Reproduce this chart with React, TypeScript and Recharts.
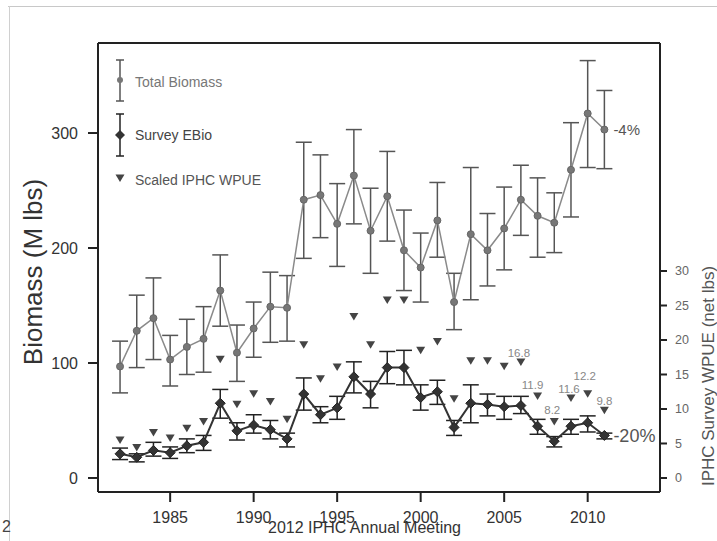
import React from "react";
import {
  ComposedChart,
  Line,
  XAxis,
  YAxis,
  ErrorBar,
  LabelList,
  Legend,
  ReferenceLine,
} from "recharts";

// values
const years = [
  1982, 1983, 1984, 1985, 1986, 1987, 1988, 1989, 1990, 1991, 1992, 1993, 1994, 1995, 1996,
  1997, 1998, 1999, 2000, 2001, 2002, 2003, 2004, 2005, 2006, 2007, 2008, 2009, 2010, 2011,
];
const totalBiomass = [
  97, 128, 139, 103, 114, 121, 163, 109, 130, 149, 148, 242, 246, 221, 263,
  215, 245, 198, 183, 224, 153, 212, 198, 217, 242, 228, 222, 268, 317, 303,
];
const totalLo = [
  74, 96, 103, 80, 90, 92, 132, 84, 105, 118, 119, 191, 209, 184, 221,
  178, 206, 163, 153, 192, 129, 155, 167, 181, 211, 192, 196, 227, 270, 269,
];
const totalHi = [
  119, 159, 174, 124, 138, 149, 194, 133, 153, 179, 176, 292, 281, 256, 303,
  252, 284, 233, 213, 257, 178, 270, 230, 253, 272, 261, 248, 309, 363, 337,
];
const surveyEBio = [
  21, 18, 24, 22, 28, 31, 65, 41, 46, 42, 34, 73, 55, 61, 88,
  73, 96, 96, 70, 75, 44, 65, 64, 62, 63, 45, 32, 45, 48, 37,
];
const ebioLo = [
  16, 14, 19, 17, 22, 24, 52, 33, 39, 34, 27, 59, 48, 51, 74,
  61, 82, 81, 59, 64, 37, 48, 54, 51, 56, 38, 27, 38, 40, 34,
];
const ebioHi = [
  26, 21, 31, 27, 34, 37, 77, 48, 55, 50, 39, 87, 62, 71, 101,
  84, 110, 111, 81, 85, 50, 81, 73, 71, 71, 51, 36, 51, 54, 39,
];
const wpue = [
  5.5, 4.4, 6.6, 5.8, 7.2, 8.2, 17.2, 10.7, 12.2, 11.1, 8.5, 19.3, 14.4, 16.1, 23.4,
  19.3, 25.8, 25.8, 18.5, 19.8, 11.5, 17.0, 17.0, 16.2, 16.8, 11.9, 8.2, 11.6, 12.2, 9.8,
];
const labelledYears = [2006, 2007, 2008, 2009, 2010, 2011];
const totalChange = "-4%";
const ebioChange = "-20%";

const xTicks = [1985, 1990, 1995, 2000, 2005, 2010];
const leftTicks = [0, 100, 200, 300];
const rightTicks = [0, 5, 10, 15, 20, 25, 30];
const legendNames = ["Total Biomass", "Survey EBio", "Scaled IPHC WPUE"];

const FONT = "'Liberation Sans', Arial, sans-serif";
const lastYear = years[years.length - 1];
const leftMax = 378.3;

const rows = years.map((year, i) => ({
  year,
  total: totalBiomass[i],
  totalErr: [totalBiomass[i] - totalLo[i], totalHi[i] - totalBiomass[i]],
  ebio: surveyEBio[i],
  ebioErr: [surveyEBio[i] - ebioLo[i], ebioHi[i] - surveyEBio[i]],
  wpue: wpue[i],
  wpueLabel: labelledYears.includes(year) ? wpue[i].toFixed(1) : undefined,
  totalNote: year === lastYear ? totalChange : undefined,
  ebioNote: year === lastYear ? ebioChange : undefined,
}));

// label nudges so the small numbers sit like on the slide
const labelNudge: Record<number, [number, number]> = {
  2006: [-2, -5],
  2007: [-5, -7],
  2008: [-2, -7],
  2009: [-2, -5],
  2010: [-3, -14],
  2011: [0, -5],
};

const Diamond = (p: any) => {
  const { cx, cy, index } = p;
  if (cx == null || cy == null) return <g key={index} />;
  const r = 5;
  return (
    <polygon
      key={index}
      points={`${cx},${cy - r} ${cx + r},${cy} ${cx},${cy + r} ${cx - r},${cy}`}
      fill="#333"
      stroke="#222"
    />
  );
};

const DownTri = (p: any) => {
  const { cx, cy, index } = p;
  if (cx == null || cy == null) return <g key={index} />;
  return (
    <polygon
      key={index}
      points={`${cx - 4.5},${cy - 3.5} ${cx + 4.5},${cy - 3.5} ${cx},${cy + 4}`}
      fill="#444"
    />
  );
};

const WpueLabel = (p: any) => {
  const { x, y, value, index } = p;
  if (value == null) return null;
  const [dx, dy] = labelNudge[years[index]] || [0, -5];
  return (
    <text x={x + dx} y={y + dy} textAnchor="middle" fontSize={11.5} fill="#888" fontFamily={FONT}>
      {value}
    </text>
  );
};

const noteLabel = (size: number) => (p: any) => {
  const { x, y, value } = p;
  if (value == null) return null;
  return (
    <text x={x + 9} y={y + size * 0.36} fontSize={size} fill="#555" fontFamily={FONT}>
      {value}
    </text>
  );
};

const renderLegend = () => (
  <svg width={200} height={140} style={{ display: "block" }}>
    <g stroke="#555" strokeWidth={1.5}>
      <line x1={10} y1={8} x2={10} y2={49} />
      <line x1={6} y1={8} x2={14} y2={8} />
      <line x1={6} y1={49} x2={14} y2={49} />
    </g>
    <circle cx={10} cy={28} r={3} fill="#777" />
    <g stroke="#222" strokeWidth={1.5}>
      <line x1={10} y1={62} x2={10} y2={104} />
      <line x1={6} y1={62} x2={14} y2={62} />
      <line x1={6} y1={104} x2={14} y2={104} />
    </g>
    <polygon points="10,78 15,83 10,88 5,83" fill="#333" />
    <polygon points="5.5,122.5 14.5,122.5 10,130" fill="#444" />
    {legendNames.map((name, i) => (
      <text
        key={name}
        x={25}
        y={[30, 83, 128][i] + 5}
        fontSize={14}
        fill={["#777", "#444", "#555"][i]}
        fontFamily={FONT}
      >
        {name}
      </text>
    ))}
  </svg>
);

const axisLine = { stroke: "#222", strokeWidth: 2 };

export default function App() {
  return (
    <div
      style={{
        position: "absolute",
        left: 0,
        top: 0,
        width: 717,
        height: 541,
        background: "#fff",
        fontFamily: FONT,
        overflow: "hidden",
      }}
    >
      {/* slide border and footer */}
      <div style={{ position: "absolute", left: 8, top: 6, width: 709, borderTop: "1px solid #c8c8c8" }} />
      <div style={{ position: "absolute", left: 9, top: 6, height: 535, borderLeft: "1px solid #d0d0d0" }} />
      <div style={{ position: "absolute", left: 2, top: 519, fontSize: 16, lineHeight: "16px", color: "#444" }}>2</div>
      <div style={{ position: "absolute", left: 268, top: 520, fontSize: 16, lineHeight: "16px", color: "#333" }}>
        2012 IPHC Annual Meeting
      </div>

      <ComposedChart width={717} height={541} data={rows} margin={{ top: 43, right: 0, bottom: 0, left: 0 }}>
        <XAxis
          dataKey="year"
          type="number"
          domain={[1980.68, 2014.33]}
          ticks={xTicks}
          allowDataOverflow
          height={49}
          tickSize={10}
          tickMargin={10}
          axisLine={axisLine}
          tickLine={axisLine}
          tick={{ fontSize: 16, fill: "#333", fontFamily: FONT }}
        />
        <YAxis
          yAxisId="left"
          domain={[-12.2, leftMax]}
          ticks={leftTicks}
          allowDataOverflow
          width={98}
          tickSize={10}
          tickMargin={10}
          axisLine={axisLine}
          tickLine={axisLine}
          tick={{ fontSize: 16, fill: "#333", fontFamily: FONT }}
          label={{
            content: (p: any) => {
              const vb = p.viewBox;
              const cx = 42;
              const cy = vb.y + 229;
              return (
                <text
                  x={cx}
                  y={cy}
                  transform={`rotate(-90, ${cx}, ${cy})`}
                  textAnchor="middle"
                  fontSize={26}
                  fill="#333"
                  fontFamily={FONT}
                >
                  Biomass (M lbs)
                </text>
              );
            },
          }}
        />
        <YAxis
          yAxisId="right"
          orientation="right"
          domain={[-2.033, 63.05]}
          ticks={rightTicks}
          allowDataOverflow
          width={57}
          tickSize={7}
          tickMargin={8}
          axisLine={axisLine}
          tickLine={axisLine}
          tick={{ fontSize: 12.5, fill: "#666", fontFamily: FONT }}
          label={{
            content: () => {
              const cx = 714;
              const cy = 376;
              return (
                <text
                  x={cx}
                  y={cy}
                  transform={`rotate(-90, ${cx}, ${cy})`}
                  textAnchor="middle"
                  fontSize={17}
                  fill="#555"
                  fontFamily={FONT}
                >
                  IPHC Survey WPUE (net lbs)
                </text>
              );
            },
          }}
        />
        {/* top edge of the plot frame */}
        <ReferenceLine yAxisId="left" y={leftMax} stroke="#222" strokeWidth={2} ifOverflow="visible" />
        <Legend
          content={renderLegend}
          layout="vertical"
          align="center"
          verticalAlign="middle"
          wrapperStyle={{ left: 110, top: 52, width: 200, height: 140 }}
        />

        <Line
          yAxisId="left"
          dataKey="total"
          name="Total Biomass"
          stroke="#8a8a8a"
          strokeWidth={1.5}
          dot={{ r: 3.5, fill: "#777", stroke: "#666", strokeWidth: 1 }}
          activeDot={false}
          isAnimationActive={false}
        >
          <ErrorBar dataKey="totalErr" width={8} stroke="#555" strokeWidth={1.5} direction="y" isAnimationActive={false} />
          <LabelList dataKey="totalNote" content={noteLabel(15)} />
        </Line>
        <Line
          yAxisId="left"
          dataKey="ebio"
          name="Survey EBio"
          stroke="#333"
          strokeWidth={2}
          dot={Diamond}
          activeDot={false}
          isAnimationActive={false}
        >
          <ErrorBar dataKey="ebioErr" width={8} stroke="#222" strokeWidth={1.5} direction="y" isAnimationActive={false} />
          <LabelList dataKey="ebioNote" content={noteLabel(18)} />
        </Line>
        <Line
          yAxisId="right"
          dataKey="wpue"
          name="Scaled IPHC WPUE"
          stroke="none"
          dot={DownTri}
          activeDot={false}
          isAnimationActive={false}
        >
          <LabelList dataKey="wpueLabel" content={WpueLabel} />
        </Line>
      </ComposedChart>
    </div>
  );
}
